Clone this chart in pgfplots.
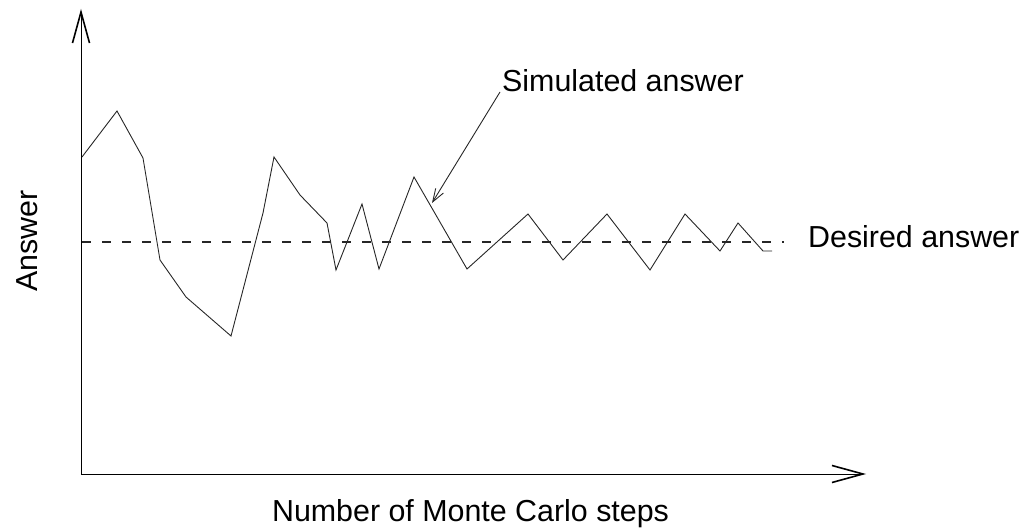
\documentclass[border=0pt]{standalone}
\usepackage{fontspec}
\setmainfont{Liberation Sans}
\usepackage{pgfplots}
\pgfplotsset{compat=1.18}
\usetikzlibrary{arrows.meta}
\begin{document}
\begin{tikzpicture}[font=\fontsize{30.5}{36}\selectfont]
\useasboundingbox (0,0) rectangle (1020bp,530bp);
\begin{axis}[
  at={(81bp,56bp)}, anchor=south west,
  scale only axis, width=785bp, height=465bp,
  xmin=0, xmax=785, ymin=0, ymax=465,
  axis lines=left,
  axis line style={line width=1bp, -{Straight Barb[length=31bp,width=17bp,line width=1.6bp]}},
  xtick=\empty, ytick=\empty,
  clip=false,
  xlabel={Number of Monte Carlo steps},
  ylabel={Answer},
  xlabel style={at={(axis description cs:0.4962,-0.1011)}, anchor=base},
  ylabel style={at={(axis description cs:-0.0548,0.501)}, anchor=base},
]
% simulated answer
\addplot[black!85, line width=0.9bp, line join=miter] coordinates {
(1,317) (36,363) (62,316) (79,214) (105,177) (150,138) (182,261) (193,317)
(219,279) (246,251) (255,204) (281,270) (298,205) (333,297) (386,205)
(447,260) (482,214) (526,260) (569,204) (604,260) (639,223) (657,251)
(682,223) (691,223)
};
% desired answer
\addplot[black!85, line width=1.1bp, dash pattern=on 9bp off 11bp] coordinates {
(1,232) (703,232)
};
\draw[black!85, line width=0.9bp, -{Straight Barb[length=13bp,width=9bp]}] (axis cs:419,382) -- (axis cs:351,271);
\node[anchor=base west, inner sep=0pt] at (axis cs:421,382) {Simulated answer};
\node[anchor=base west, inner sep=0pt] at (axis cs:727,226) {Desired answer};
\end{axis}
\end{tikzpicture}
\end{document}
